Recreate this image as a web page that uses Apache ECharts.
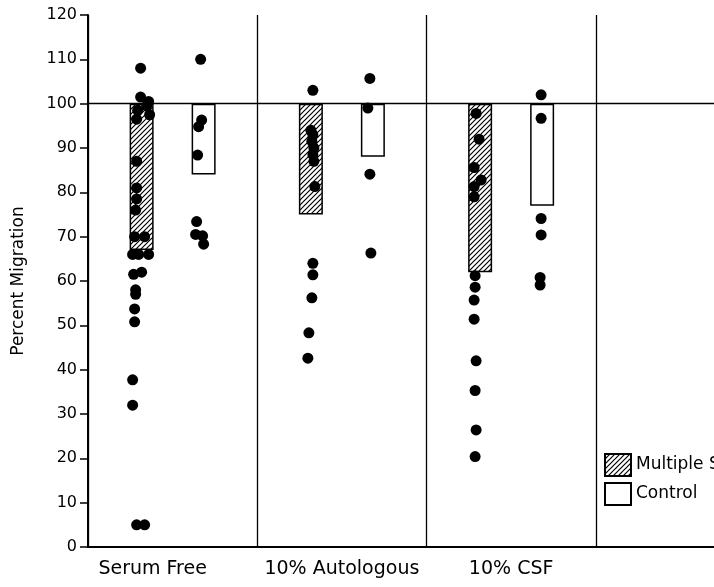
<!DOCTYPE html>
<html>
<head>
<meta charset="utf-8">
<script src="https://cdn.jsdelivr.net/npm/echarts@6/dist/echarts.min.js"></script>
<style>html,body{margin:0;padding:0;background:#fff;overflow:hidden}#c{width:765px;height:587px}</style>
</head>
<body>
<div id="c"></div>
<script>
// ---- data ----
const categories = ['Serum Free', '10% Autologous', '10% CSF', ''];
const yTicks = [0, 10, 20, 30, 40, 50, 60, 70, 80, 90, 100, 110, 120];
const msBar = [67, 75, 62, null];     // Multiple Sclerosis mean (bar hangs from 100)
const ctrlBar = [84, 88, 77, null];   // Control mean

const msSerumFree = [108, 101.5, 100.5, 99.5, 98.5, 97.5, 96.5, 87, 81, 78.5, 76, 70, 70, 66, 66, 66, 62, 61.5, 58, 57, 53.7, 50.8, 37.7, 32, 5, 5];
const msAutologous = [103, 94, 93, 91.5, 90, 88.5, 87, 81.3, 64, 61.4, 56.2, 48.3, 42.6];
const msCSF = [97.8, 92, 85.6, 82.8, 81.3, 79, 61.2, 58.6, 55.7, 51.4, 42, 35.3, 26.4, 20.4];
const ctrlSerumFree = [110, 96.3, 94.8, 88.4, 73.4, 70.5, 70.2, 68.3];
const ctrlAutologous = [105.7, 99, 84.1, 66.3];
const ctrlCSF = [102, 96.7, 74.1, 70.4, 60.8, 59.1];

// swarm spread of overlapping dots (px)
const msSerumFreeSpread = [-1, -1, 7, 5, -4, 8, -5, -5, -5, -5, -6, -7, 3, -9, -3, 7, 0, -8, -6, -6, -7, -7, -9, -9, -5, 3];
const msAutologousSpread = [2, 0, 2, 1, 3, 2, 3, 4, 2, 2, 1, -2, -3];
const msCSFSpread = [-4, -1, -6, 1, -6, -6, -5, -5, -6, -6, -4, -5, -4, -5];
const ctrlSerumFreeSpread = [-3, -2, -5, -6, -7, -8, -1, 0];
const ctrlAutologousSpread = [-3, -5, -3, -2];
const ctrlCSFSpread = [-1, -1, -1, -1, -2, -2];

// ---- styles ----
const BAR_W = 24, GAP = 38;
const SIDE = (BAR_W + GAP) / 2;
const FONT = 'DejaVu Sans';

function hatch() {
  const s = 5;
  const c = document.createElement('canvas');
  c.width = s; c.height = s;
  const g = c.getContext('2d');
  g.fillStyle = '#fff'; g.fillRect(0, 0, s, s);
  g.strokeStyle = '#000'; g.lineWidth = 1.2;
  g.beginPath();
  g.moveTo(-1, s + 1); g.lineTo(s + 1, -1);
  g.moveTo(-1, 1); g.lineTo(1, -1);
  g.moveTo(s - 1, s + 1); g.lineTo(s + 1, s - 1);
  g.stroke();
  return c;
}

function dots(groups, spreads, side) {
  const out = [];
  groups.forEach((vals, ci) => {
    vals.forEach((v, i) => {
      out.push({ value: [ci, v], symbolOffset: [side + spreads[ci][i], 0] });
    });
  });
  return out;
}

const chart = echarts.init(document.getElementById('c'), null, { renderer: 'canvas' });
chart.setOption({
  animation: false,
  backgroundColor: '#fff',
  textStyle: { fontFamily: FONT, color: '#000' },
  grid: { left: 88, top: 15, right: 0, bottom: 40, containLabel: false },
  legend: {
    left: 599, top: 448, orient: 'vertical',
    itemWidth: 26, itemHeight: 22, itemGap: 5,
    data: ['Multiple Sclerosis', 'Control'],
    textStyle: { fontSize: 17, color: '#000', fontFamily: FONT },
    icon: 'rect'
  },
  xAxis: {
    type: 'category',
    data: categories.map((c, i) => i === 0 ? { value: c, textStyle: { padding: [0, 40, 0, 0] } } : c),
    axisLine: { lineStyle: { color: '#000', width: 2 } },
    axisTick: { show: false },
    axisLabel: { fontSize: 19, color: '#000', margin: 13, fontFamily: FONT, interval: 0 },
    splitLine: { show: true, interval: 0, lineStyle: { color: '#000', width: 1.3 } }
  },
  yAxis: {
    type: 'value', min: 0, max: 120, interval: 10,
    name: 'Percent Migration', nameLocation: 'middle', nameGap: 61,
    nameTextStyle: { fontSize: 17, color: '#000', fontFamily: FONT },
    axisLine: { show: true, lineStyle: { color: '#000', width: 2 } },
    axisTick: { show: true, length: 8, lineStyle: { color: '#000', width: 1.5 } },
    axisLabel: { fontSize: 16, color: '#000', margin: 11, fontFamily: FONT,
      formatter: v => yTicks.includes(v) ? String(v) : '' },
    splitLine: { show: false }
  },
  series: [
    { name: 'msBase', type: 'bar', stack: 'ms', barWidth: BAR_W, silent: true,
      itemStyle: { color: 'rgba(0,0,0,0)' }, data: msBar },
    { name: 'Multiple Sclerosis', type: 'bar', stack: 'ms', barWidth: BAR_W,
      itemStyle: { color: { image: hatch(), repeat: 'repeat' }, borderColor: '#000', borderWidth: 1.5 },
      data: msBar.map(v => v == null ? null : 100 - v) },
    { name: 'ctrlBase', type: 'bar', stack: 'ctrl', barWidth: BAR_W, silent: true,
      itemStyle: { color: 'rgba(0,0,0,0)' }, data: ctrlBar },
    { name: 'Control', type: 'bar', stack: 'ctrl', barWidth: BAR_W, barGap: (GAP / BAR_W * 100) + '%',
      itemStyle: { color: '#fff', borderColor: '#000', borderWidth: 1.5 },
      data: ctrlBar.map(v => v == null ? null : 100 - v) },
    { name: 'msDots', type: 'scatter', symbol: 'circle', symbolSize: 11, z: 5,
      itemStyle: { color: '#000', opacity: 1 },
      data: dots([msSerumFree, msAutologous, msCSF, []],
                 [msSerumFreeSpread, msAutologousSpread, msCSFSpread, []], -SIDE),
      markLine: { silent: true, symbol: 'none', label: { show: false },
        lineStyle: { color: '#000', width: 1.3, type: 'solid' }, data: [{ yAxis: 100 }] } },
    { name: 'ctrlDots', type: 'scatter', symbol: 'circle', symbolSize: 11, z: 5,
      itemStyle: { color: '#000', opacity: 1 },
      data: dots([ctrlSerumFree, ctrlAutologous, ctrlCSF, []],
                 [ctrlSerumFreeSpread, ctrlAutologousSpread, ctrlCSFSpread, []], SIDE) }
  ]
});
</script>
</body>
</html>
